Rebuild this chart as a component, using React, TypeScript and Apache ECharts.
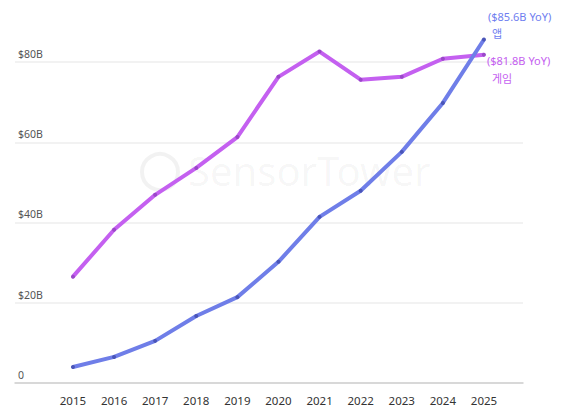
import React, { useEffect, useRef } from "react";
import * as echarts from "echarts";

const years = [2015, 2016, 2017, 2018, 2019, 2020, 2021, 2022, 2023, 2024, 2025];
const appValues = [4.0, 6.5, 10.5, 16.7, 21.4, 30.2, 41.4, 47.9, 57.6, 69.8, 85.6];
const gameValues = [26.5, 38.2, 46.9, 53.6, 61.3, 76.3, 82.6, 75.6, 76.3, 80.8, 81.8];
const appName = "앱";
const gameName = "게임";
const yTicks = [0, 20, 40, 60, 80];

const FONT = "'Noto Sans', 'Noto Sans CJK KR', sans-serif";

export default function App() {
  const ref = useRef<HTMLDivElement>(null);
  useEffect(() => {
    if (!ref.current) return;
    document.body.style.margin = "0";
    const chart = echarts.init(ref.current, null, { renderer: "svg" });
    const mk = (vals: number[]) => vals.map((v, i) => [years[i], v]);
    const appData: any[] = mk(appValues);
    const gameData: any[] = mk(gameValues);
    const last = years.length - 1;
    appData[last] = {
      value: appData[last],
      label: {
        show: true,
        position: [6, -30],
        align: "left",
        verticalAlign: "top",
        formatter: `{a|($${appValues[last]}B YoY)}\n{b|${appName}}`,
        rich: {
          a: { color: "#6f7ef0", fontSize: 11, fontFamily: FONT, lineHeight: 17 },
          b: { color: "#6f7ef0", fontSize: 11, fontFamily: FONT, lineHeight: 17, padding: [0, 0, 0, 4] },
        },
      },
    };
    gameData[last] = {
      value: gameData[last],
      label: {
        show: true,
        position: [5, -1],
        align: "left",
        verticalAlign: "top",
        formatter: `{a|($${gameValues[last]}B YoY)}\n{b|${gameName}}`,
        rich: {
          a: { color: "#c460f0", fontSize: 11, fontFamily: FONT, lineHeight: 18 },
          b: { color: "#c460f0", fontSize: 11, fontFamily: FONT, lineHeight: 18, padding: [0, 0, 0, 5] },
        },
      },
    };
    chart.setOption({
      animation: false,
      backgroundColor: "#ffffff",
      grid: { left: 15, right: 42, top: 62, bottom: 29 },
      graphic: [
        {
          type: "circle",
          silent: true,
          shape: { cx: 160, cy: 172, r: 18 },
          style: { fill: "none", stroke: "rgba(0,0,0,0.05)", lineWidth: 4 },
        },
        {
          type: "text",
          left: 188,
          top: 150,
          silent: true,
          style: {
            text: "SensorTower",
            fontSize: 40,
            fontFamily: FONT,
            fill: "rgba(0,0,0,0.045)",
          },
        },
      ],
      xAxis: {
        type: "value",
        min: 2013.59,
        max: 2025.95,
        splitLine: { show: false },
        axisLine: { show: true, lineStyle: { color: "#cfcfcf", width: 1.5 } },
        axisTick: { show: false },
        axisLabel: {
          customValues: years,
          margin: 12,
          color: "#333333",
          fontSize: 11.5,
          fontFamily: FONT,
          formatter: (v: number) => String(v),
        },
      },
      yAxis: {
        type: "value",
        min: 0,
        max: 80,
        interval: 20,
        axisLine: { show: false },
        axisTick: { show: false },
        splitLine: { show: true, lineStyle: { color: "#eeeeee", width: 1.5 } },
        axisLabel: {
          inside: true,
          margin: 3,
          verticalAlign: "bottom",
          padding: [0, 0, 3, 0],
          color: "#555555",
          fontSize: 10.5,
          fontFamily: FONT,
          customValues: yTicks,
          formatter: (v: number) => (v === 0 ? "0" : `$${v}B`),
        },
      },
      series: [
        {
          name: gameName,
          type: "line",
          data: gameData,
          clip: false,
          symbol: "circle",
          symbolSize: 4,
          lineStyle: { color: "#c460f0", width: 4 },
          itemStyle: { color: "#9a48c8" },
          z: 3,
        },
        {
          name: appName,
          type: "line",
          data: appData,
          clip: false,
          symbol: "circle",
          symbolSize: 4,
          lineStyle: { color: "#6f7ee8", width: 4 },
          itemStyle: { color: "#4a55b8" },
          z: 4,
        },
      ],
    });
    return () => chart.dispose();
  }, []);
  return <div ref={ref} style={{ width: 565, height: 412 }} />;
}
